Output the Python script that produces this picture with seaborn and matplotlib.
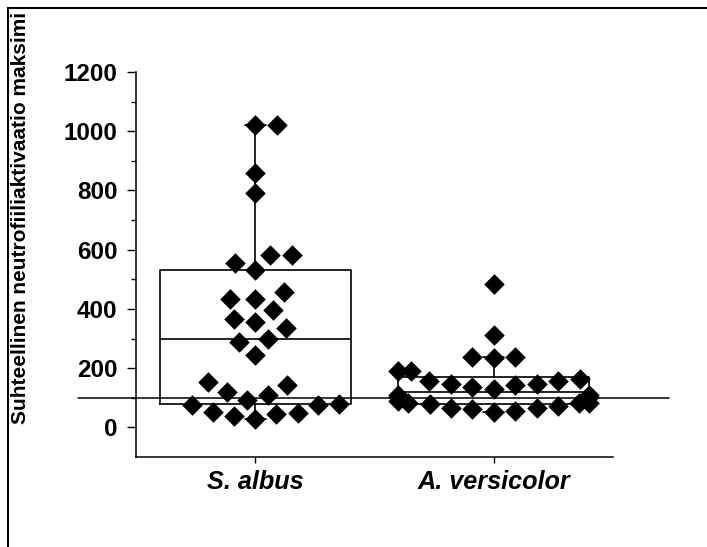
import numpy as np
import pandas as pd
import matplotlib
matplotlib.use("Agg")
import matplotlib.pyplot as plt
from matplotlib.path import Path
from matplotlib.patches import Rectangle
import seaborn as sns

# ---------------- data ----------------
categories = ["S. albus", "A. versicolor"]
s_albus = [1020, 1020, 860, 790, 583, 583, 556, 533, 458, 435, 435, 398, 367,
           357, 337, 300, 290, 243, 152, 142, 118, 108, 91, 74, 74, 78, 47,
           44, 51, 37, 27]
a_versicolor = [485, 313, 233, 236, 239, 189, 189, 162, 148, 155, 138, 131,
                142, 148, 155, 101, 101, 108, 111, 84, 81, 78, 84, 88, 67, 67,
                54, 61, 71, 51]
reference_level = 100
y_major_ticks = [0, 200, 400, 600, 800, 1000, 1200]
y_minor_ticks = [100, 300, 500, 700, 900, 1100]
y_label = "Suhteellinen neutrofiiliaktivaatio maksimi"

# ---------------- style ----------------
sns.set_style("ticks")
plt.rcParams["font.family"] = ["Liberation Sans", "DejaVu Sans"]

W, H = 707, 547
fig = plt.figure(figsize=(W / 100, H / 100), dpi=100)
ax_left, ax_right, ax_top, ax_bottom = 136, 613, 72, 457
ax = fig.add_axes([ax_left / W, 1 - ax_bottom / H,
                   (ax_right - ax_left) / W, (ax_bottom - ax_top) / H])

df = pd.DataFrame({
    "group": [categories[0]] * len(s_albus) + [categories[1]] * len(a_versicolor),
    "value": s_albus + a_versicolor,
})


def box_stats(values, label):
    v = np.asarray(values, float)
    q1, med, q3 = np.percentile(v, [25, 50, 75], method="weibull")
    iqr = q3 - q1
    lo = v[v >= q1 - 1.5 * iqr].min()
    hi = v[v <= q3 + 1.5 * iqr].max()
    return dict(label=label, med=med, q1=q1, q3=q3, whislo=lo, whishi=hi,
                mean=v.mean(), fliers=[])


groups = [s_albus, a_versicolor]
stats = [box_stats(g, c) for g, c in zip(groups, categories)]
line_kw = dict(color="black", linewidth=1.2)
ax.bxp(stats, positions=[0, 1], widths=0.8, showmeans=True, showfliers=False,
       capwidths=0.09,
       boxprops=line_kw, whiskerprops=line_kw, capprops=line_kw,
       medianprops=line_kw,
       meanprops=dict(marker="s", markerfacecolor="white",
                      markeredgecolor="black", markersize=3.8,
                      markeredgewidth=0.8),
       zorder=2)

# min / max markers
for pos, g in enumerate(groups):
    ax.scatter([pos, pos], [min(g), max(g)], marker="x", s=22,
               color="black", linewidths=0.8, zorder=2.2)

# reference line extending beyond the axes
span = ax_right - ax_left
ax.axhline(reference_level, xmin=(78 - ax_left) / span,
           xmax=(669 - ax_left) / span, color="black", linewidth=1.1,
           clip_on=False, zorder=2.5)

diamond = Path([(0, 1), (1, 0), (0, -1), (-1, 0), (0, 1)], closed=True)
sns.swarmplot(data=df, x="group", y="value", order=categories, ax=ax,
              marker=diamond, size=14.8, color="black", linewidth=0,
              zorder=3, warn_thresh=1.0)

ax.set_xlim(-0.5, 1.5)
ax.set_ylim(-100, 1200)
ax.set_xlabel("")
ax.set_ylabel("")

for side in ("top", "right"):
    ax.spines[side].set_visible(False)
for side in ("left", "bottom"):
    ax.spines[side].set_color("black")
    ax.spines[side].set_linewidth(1.1)

ax.set_yticks(y_major_ticks)
ax.set_yticks(y_minor_ticks, minor=True)
ax.set_yticklabels([str(t) for t in y_major_ticks], fontsize=17.5,
                   fontweight="bold")
ax.tick_params(axis="y", which="major", length=6.5, width=1.0, pad=7,
               color="black", labelcolor="black")
ax.tick_params(axis="y", which="minor", length=3.5, width=1.0, color="black")
ax.set_xticks([0, 1])
ax.set_xticklabels(categories, fontsize=18.2, fontweight="bold",
                   fontstyle="italic")
ax.tick_params(axis="x", which="major", length=4.5, width=1.0, pad=5,
               color="black", labelcolor="black")

fig.text(21 / W, 1 - 217.5 / H, y_label, rotation=90, ha="center",
         va="center", fontsize=15, fontweight="bold", color="black")

# outer frame (top and left visible)
fig.add_artist(Rectangle((8 / W, -0.05), 1.1, 1 - 8 / H + 0.05,
                         transform=fig.transFigure, fill=False,
                         edgecolor="black", linewidth=1.5, clip_on=False))

fig.savefig("out.png", dpi=100, facecolor="white")
